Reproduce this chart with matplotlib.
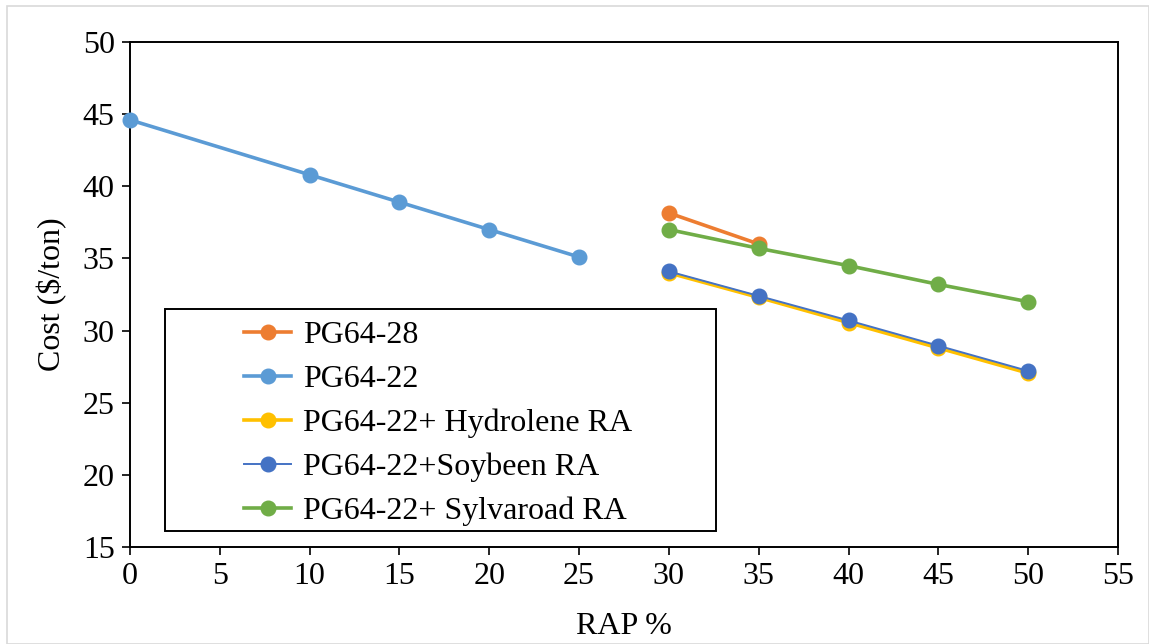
import matplotlib
matplotlib.use("Agg")
import matplotlib.pyplot as plt
from matplotlib.patches import Rectangle

plt.rcParams['font.family'] = ['Liberation Serif', 'DejaVu Serif']

# RAP content (%) for each binder series
rap_pg6422 = [0, 10, 15, 20, 25]
rap_pg6428 = [30, 35]
rap_ra = [30, 35, 40, 45, 50]

# Cost ($/ton)
cost_pg6428 = [38.15, 36.0]
cost_pg6422 = [44.6, 40.8, 38.9, 37.0, 35.1]
cost_hydrolene = [34.0, 32.3, 30.55, 28.8, 27.05]
cost_soybeen = [34.1, 32.4, 30.7, 28.95, 27.2]
cost_sylvaroad = [37.0, 35.7, 34.5, 33.2, 32.0]

labels = ["PG64-28", "PG64-22", "PG64-22+ Hydrolene RA",
          "PG64-22+Soybeen RA", "PG64-22+ Sylvaroad RA"]
colors = ["#ED7D31", "#5B9BD5", "#FFC000", "#4472C4", "#70AD47"]

x_ticks = list(range(0, 60, 5))
y_ticks = list(range(15, 55, 5))

FS = 23

fig = plt.figure(figsize=(11.49, 6.44), dpi=100)
ax = fig.add_axes([0.1131, 0.1506, 0.8599, 0.7842])

series = [
    (rap_pg6428, cost_pg6428, 2.6),
    (rap_pg6422, cost_pg6422, 2.6),
    (rap_ra, cost_hydrolene, 2.6),
    (rap_ra, cost_soybeen, 1.4),
    (rap_ra, cost_sylvaroad, 2.6),
]
handles = []
for (xs, ys, lw), lab, col in zip(series, labels, colors):
    h, = ax.plot(xs, ys, color=col, lw=lw, marker='o', markersize=10.5,
                 label=lab, clip_on=False, zorder=3)
    handles.append(h)

ax.set_xlim(0, 55)
ax.set_ylim(15, 50)
ax.set_xticks(x_ticks)
ax.set_yticks(y_ticks)
ax.tick_params(direction='out', length=6, width=1.2, labelsize=FS, pad=5)
for s in ax.spines.values():
    s.set_linewidth(1.4)
    s.set_color('black')

ax.set_xlabel("RAP %", fontsize=FS, labelpad=15)
ax.set_ylabel("Cost (\\$/ton)", fontsize=FS, labelpad=11)

# Legend frame drawn separately so the entries can sit with a wide left margin
W, H = 1149, 644
fig.patches.append(Rectangle((165 / W, 1 - 531 / H), (716 - 165) / W, (531 - 309) / H,
                             transform=fig.transFigure, fill=True, facecolor='white',
                             edgecolor='black', lw=1.4, zorder=4))
leg = fig.legend(handles=handles, labels=labels, loc='upper left',
                 bbox_to_anchor=(222 / W, 1 - 298 / H), frameon=False,
                 fontsize=FS, handlelength=1.45, handletextpad=0.4,
                 labelspacing=0.46, borderpad=0.2)
leg.set_zorder(5)

# Light outer border of the chart area
fig.patches.append(Rectangle((7 / W, 0), 1 - 7 / W, 1 - 6 / H, transform=fig.transFigure,
                             fill=False, edgecolor='#D9D9D9', lw=1.2))

fig.savefig("out.png", dpi=100)
